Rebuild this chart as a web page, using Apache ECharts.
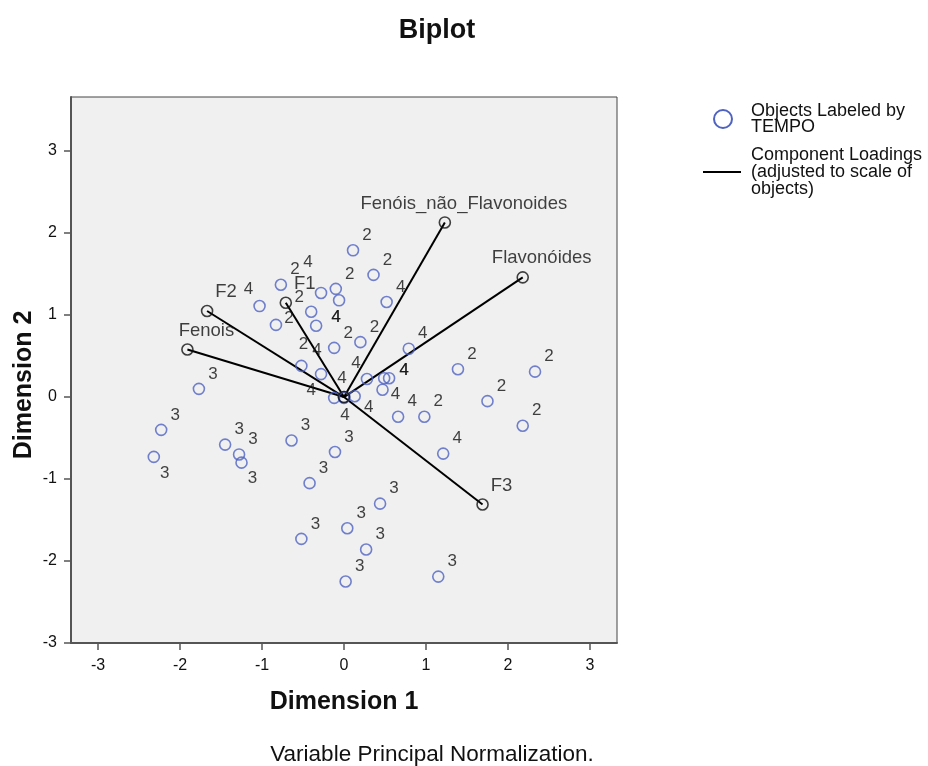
<!DOCTYPE html>
<html>
<head>
<meta charset="utf-8">
<title>Biplot</title>
<script src="https://cdn.jsdelivr.net/npm/echarts@6/dist/echarts.min.js"></script>
<style>
  html, body { margin: 0; padding: 0; background: #fff; }
  #chart { width: 928px; height: 766px; }
</style>
</head>
<body>
<div id="chart"></div>
<script>
// object scores, one list per TEMPO group: [dim1, dim2]
const tempo2 = [[0.11, 1.79], [0.36, 1.49], [-0.77, 1.37], [-0.10, 1.32], [-0.83, 0.88],
  [-0.40, 1.04], [-0.12, 0.60], [0.20, 0.67], [1.39, 0.34], [2.33, 0.31], [1.75, -0.05],
  [2.18, -0.35], [0.98, -0.24], [-0.52, 0.38]];
const tempo3 = [[-1.77, 0.10], [-2.23, -0.40], [-2.32, -0.73], [-1.45, -0.58], [-1.28, -0.70],
  [-1.25, -0.80], [-0.64, -0.53], [-0.11, -0.67], [-0.42, -1.05], [-0.52, -1.73], [0.04, -1.60],
  [0.44, -1.30], [0.27, -1.86], [0.02, -2.25], [1.15, -2.19]];
const tempo4 = [[-0.28, 1.27], [-1.03, 1.11], [-0.06, 1.18], [0.52, 1.16], [-0.34, 0.87],
  [0.79, 0.59], [-0.28, 0.28], [0.28, 0.22], [0.49, 0.23], [0.55, 0.23], [0.47, 0.09],
  [0.13, 0.01], [-0.12, -0.01], [0.00, 0.00], [0.00, -0.01], [0.66, -0.24], [1.21, -0.69]];

// component loadings (adjusted to scale of objects)
const loadingNames = ['Fenóis_não_Flavonoides', 'Flavonóides', 'F2', 'F1', 'Fenois', 'F3'];
const loadingX = [1.23, 2.18, -1.67, -0.71, -1.91, 1.69];
const loadingY = [2.13, 1.46, 1.05, 1.15, 0.58, -1.31];

const tickValues = [-3, -2, -1, 0, 1, 2, 3];

// where a point label does not sit up-right of its circle
const labelNudge = {
  '2-4': [13, -7], '2-5': [-12, -14], '2-13': [2, -22],
  '3-2': [11, 16], '3-5': [11, 16],
  '4-0': [-13, -31], '4-1': [-11, -17], '4-2': [-3, 17], '4-4': [20, -8], '4-6': [-4, -24],
  '4-7': [-11, -16], '4-8': [20, -8], '4-9': [15, -8], '4-10': [13, 5], '4-11': [14, 11],
  '4-12': [-23, -8], '4-13': [-2, -19], '4-14': [1, 17]
};

const FONT = '"Liberation Sans", Arial, sans-serif';
const BLUE = '#4f63c2';
const INK = '#111';

function objectSeries(points, group) {
  return {
    type: 'scatter',
    xAxisIndex: 0, yAxisIndex: 0,
    symbol: 'circle',
    symbolSize: 11,
    itemStyle: { color: 'rgba(0,0,0,0)', borderColor: BLUE, borderWidth: 1.6 },
    label: { show: true, formatter: String(group), position: 'inside', offset: [14, -15],
      color: INK, fontFamily: FONT, fontSize: 17 },
    emphasis: { disabled: true },
    data: points.map((p, i) => {
      const nudge = labelNudge[group + '-' + i];
      const item = { value: p };
      if (nudge) item.label = { offset: nudge };
      return item;
    })
  };
}

const chart = echarts.init(document.getElementById('chart'));

const option = {
  animation: false,
  backgroundColor: '#fff',
  title: {
    text: 'Biplot', left: 432, top: 12, textAlign: 'center',
    textStyle: { fontFamily: FONT, fontSize: 27, fontWeight: 'bold', color: INK }
  },
  grid: [
    { left: 71, top: 97, width: 546, height: 546, show: true,
      backgroundColor: '#f0f0f0', borderColor: '#444', borderWidth: 1 },
    // grid spanning exactly -3..3, only used for the tick marks and labels
    { left: 98, top: 151, width: 492, height: 492 }
  ],
  xAxis: [
    { gridIndex: 0, type: 'value', min: -3.33, max: 3.33, splitLine: { show: false },
      axisLine: { show: true, onZero: false, lineStyle: { color: '#555', width: 2 } },
      axisTick: { show: false }, axisLabel: { show: false } },
    { gridIndex: 1, type: 'value', min: -3, max: 3, interval: 1, splitLine: { show: false },
      axisLine: { show: false, onZero: false }, position: 'bottom',
      axisTick: { show: true, length: 7, lineStyle: { color: '#555', width: 1.5 } },
      axisLabel: { fontFamily: FONT, fontSize: 16, color: INK, margin: 15,
        formatter: v => tickValues.includes(v) ? String(v) : '' } }
  ],
  yAxis: [
    { gridIndex: 0, type: 'value', min: -3, max: 3.66, splitLine: { show: false },
      axisLine: { show: true, onZero: false, lineStyle: { color: '#555', width: 2 } },
      axisTick: { show: false }, axisLabel: { show: false } },
    { gridIndex: 1, type: 'value', min: -3, max: 3, interval: 1, splitLine: { show: false },
      axisLine: { show: false, onZero: false }, position: 'left', offset: 27,
      axisTick: { show: true, length: 7, lineStyle: { color: '#555', width: 1.5 } },
      axisLabel: { fontFamily: FONT, fontSize: 16, color: INK, margin: 14,
        formatter: v => tickValues.includes(v) ? String(v) : '' } }
  ],
  series: [
    objectSeries(tempo2, 2),
    objectSeries(tempo3, 3),
    objectSeries(tempo4, 4),
    {
      type: 'lines',
      coordinateSystem: 'cartesian2d',
      xAxisIndex: 0, yAxisIndex: 0,
      lineStyle: { color: '#000', width: 2, opacity: 1 },
      emphasis: { disabled: true },
      data: loadingNames.map((n, i) => ({ coords: [[0, 0], [loadingX[i], loadingY[i]]] }))
    },
    {
      type: 'scatter',
      xAxisIndex: 0, yAxisIndex: 0,
      symbol: 'circle',
      symbolSize: 11,
      itemStyle: { color: 'rgba(0,0,0,0)', borderColor: '#111', borderWidth: 1.6 },
      label: { show: true, position: 'inside', offset: [19, -19], color: INK,
        fontFamily: FONT, fontSize: 18.5, formatter: p => p.name },
      emphasis: { disabled: true },
      data: loadingNames.map((n, i) => ({ name: n, value: [loadingX[i], loadingY[i]] }))
        .concat([{ name: '', value: [0, 0] }])
    }
  ],
  graphic: [
    { type: 'text', x: 344, y: 702, style: { text: 'Dimension 1', font: 'bold 25px ' + FONT,
      fill: INK, textAlign: 'center', textVerticalAlign: 'middle' } },
    { type: 'text', x: 24, y: 385, rotation: Math.PI / 2, style: { text: 'Dimension 2',
      font: 'bold 25px ' + FONT, fill: INK, textAlign: 'center', textVerticalAlign: 'middle' } },
    { type: 'text', x: 432, y: 755, style: { text: 'Variable Principal Normalization.',
      font: '22.5px ' + FONT, fill: INK, textAlign: 'center', textVerticalAlign: 'middle' } },
    // legend
    { type: 'circle', shape: { cx: 723, cy: 119, r: 9 },
      style: { fill: 'none', stroke: BLUE, lineWidth: 2 } },
    { type: 'text', x: 751, y: 111, style: { text: 'Objects Labeled by', font: '18px ' + FONT,
      fill: INK, textVerticalAlign: 'middle' } },
    { type: 'text', x: 751, y: 127, style: { text: 'TEMPO', font: '18px ' + FONT,
      fill: INK, textVerticalAlign: 'middle' } },
    { type: 'line', shape: { x1: 703, y1: 172, x2: 741, y2: 172 },
      style: { stroke: '#000', lineWidth: 2 } },
    { type: 'text', x: 751, y: 155, style: { text: 'Component Loadings', font: '18px ' + FONT,
      fill: INK, textVerticalAlign: 'middle' } },
    { type: 'text', x: 751, y: 172, style: { text: '(adjusted to scale of', font: '18px ' + FONT,
      fill: INK, textVerticalAlign: 'middle' } },
    { type: 'text', x: 751, y: 189, style: { text: 'objects)', font: '18px ' + FONT,
      fill: INK, textVerticalAlign: 'middle' } }
  ]
};

chart.setOption(option);
</script>
</body>
</html>
